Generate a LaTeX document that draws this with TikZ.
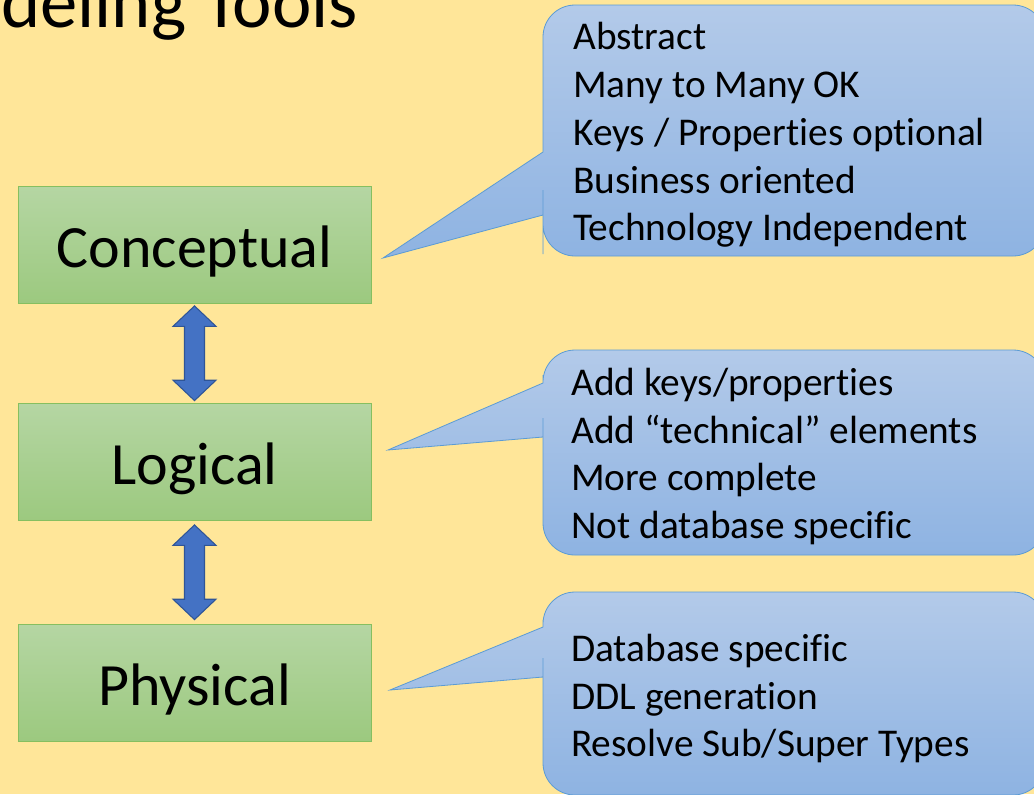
\documentclass[tikz,border=0pt]{standalone}
\usepackage{fontspec}
\setmainfont[Ligatures={NoCommon,NoRequired,NoContextual}]{Carlito}
\usetikzlibrary{shapes.arrows,calc}
\definecolor{bgyellow}{HTML}{FFE699}
\definecolor{greentop}{HTML}{B5D6A3}
\definecolor{greenbot}{HTML}{9CC97F}
\definecolor{boxline}{HTML}{86BF60}
\definecolor{bluetop}{HTML}{B3CAE9}
\definecolor{bluebot}{HTML}{8EB3E2}
\definecolor{bubbleline}{HTML}{5B9BD5}
\definecolor{arrowblue}{HTML}{4472C4}
\definecolor{arrowline}{HTML}{2F5597}
\begin{document}
\begin{tikzpicture}[
x=0.75pt,y=-0.75pt,
box/.style={
draw=boxline,
top color=greentop,
bottom color=greenbot,
minimum width=264.75pt,
minimum height=87.75pt,
inner sep=0pt,
text height=33.8pt,
text depth=0pt,
font=\fontsize{45}{54}\selectfont
},
bubble/.style={
draw=bubbleline,
top color=bluetop,
bottom color=bluebot,
line width=0.6pt
},
bubbletext/.style={
anchor=west,
align=left,
inner sep=0pt,
font=\fontsize{29.5}{35.8}\selectfont
},
updown/.style={
shape=double arrow,
rotate=90,
draw=arrowline,
fill=arrowblue,
line width=0.8pt,
minimum height=71pt,
minimum width=31.5pt,
inner xsep=0pt,
inner ysep=7.1pt,
double arrow head extend=8.6pt,
double arrow tip angle=93
}
]

\fill[bgyellow] (0,0) rectangle (1034,794);
\useasboundingbox (0,0) rectangle (1034,794);

\node[anchor=base west, inner sep=0pt, font=\fontsize{56}{66}\selectfont] (title) at (1,27)
{deling Tools};

\node[box] (concept) at (194.5,244.5)
{Conceptual};

\node[box] (logic) at (194.5,462)
{Logical};

\node[box] (phys) at (194.5,682.5)
{Physical};

\node[updown] (up1) at ($(concept.south)!0.5!(logic.north)$) {};
\node[updown] (up2) at ($(logic.south)!0.5!(phys.north)$) {};

% callouts
\path[bubble, rounded corners=24pt] (800,5) -- (1045,5) -- (1045,256) -- (543,256) -- (543,222)
[sharp corners] -- (543,215) -- (383,258) -- (543,152) -- (543,120)
[rounded corners=24pt] -- (543,5) -- cycle;

\path[bubble, rounded corners=24pt] (800,350) -- (1045,350) -- (1045,555) -- (543,555) -- (543,450)
[sharp corners] -- (543,437) -- (388,450) -- (543,383) -- (543,375)
[rounded corners=24pt] -- (543,350) -- cycle;

\path[bubble, rounded corners=24pt] (800,592) -- (1045,592) -- (1045,795) -- (543,795) -- (543,690)
[sharp corners] -- (543,677) -- (390,690) -- (543,627) -- (543,620)
[rounded corners=24pt] -- (543,592) -- cycle;

\node[bubbletext] (concepttxt) at (573,135)
{Abstract\\Many to Many OK\\Keys / Properties optional\\Business oriented\\Technology Independent};

\node[bubbletext] (logictxt) at (571,456.5)
{Add keys/properties\\Add “technical” elements\\More complete\\Not database specific};

\node[bubbletext] (phystxt) at (571,698.5)
{Database specific\\DDL generation\\Resolve Sub/Super Types};

\end{tikzpicture}
\end{document}
